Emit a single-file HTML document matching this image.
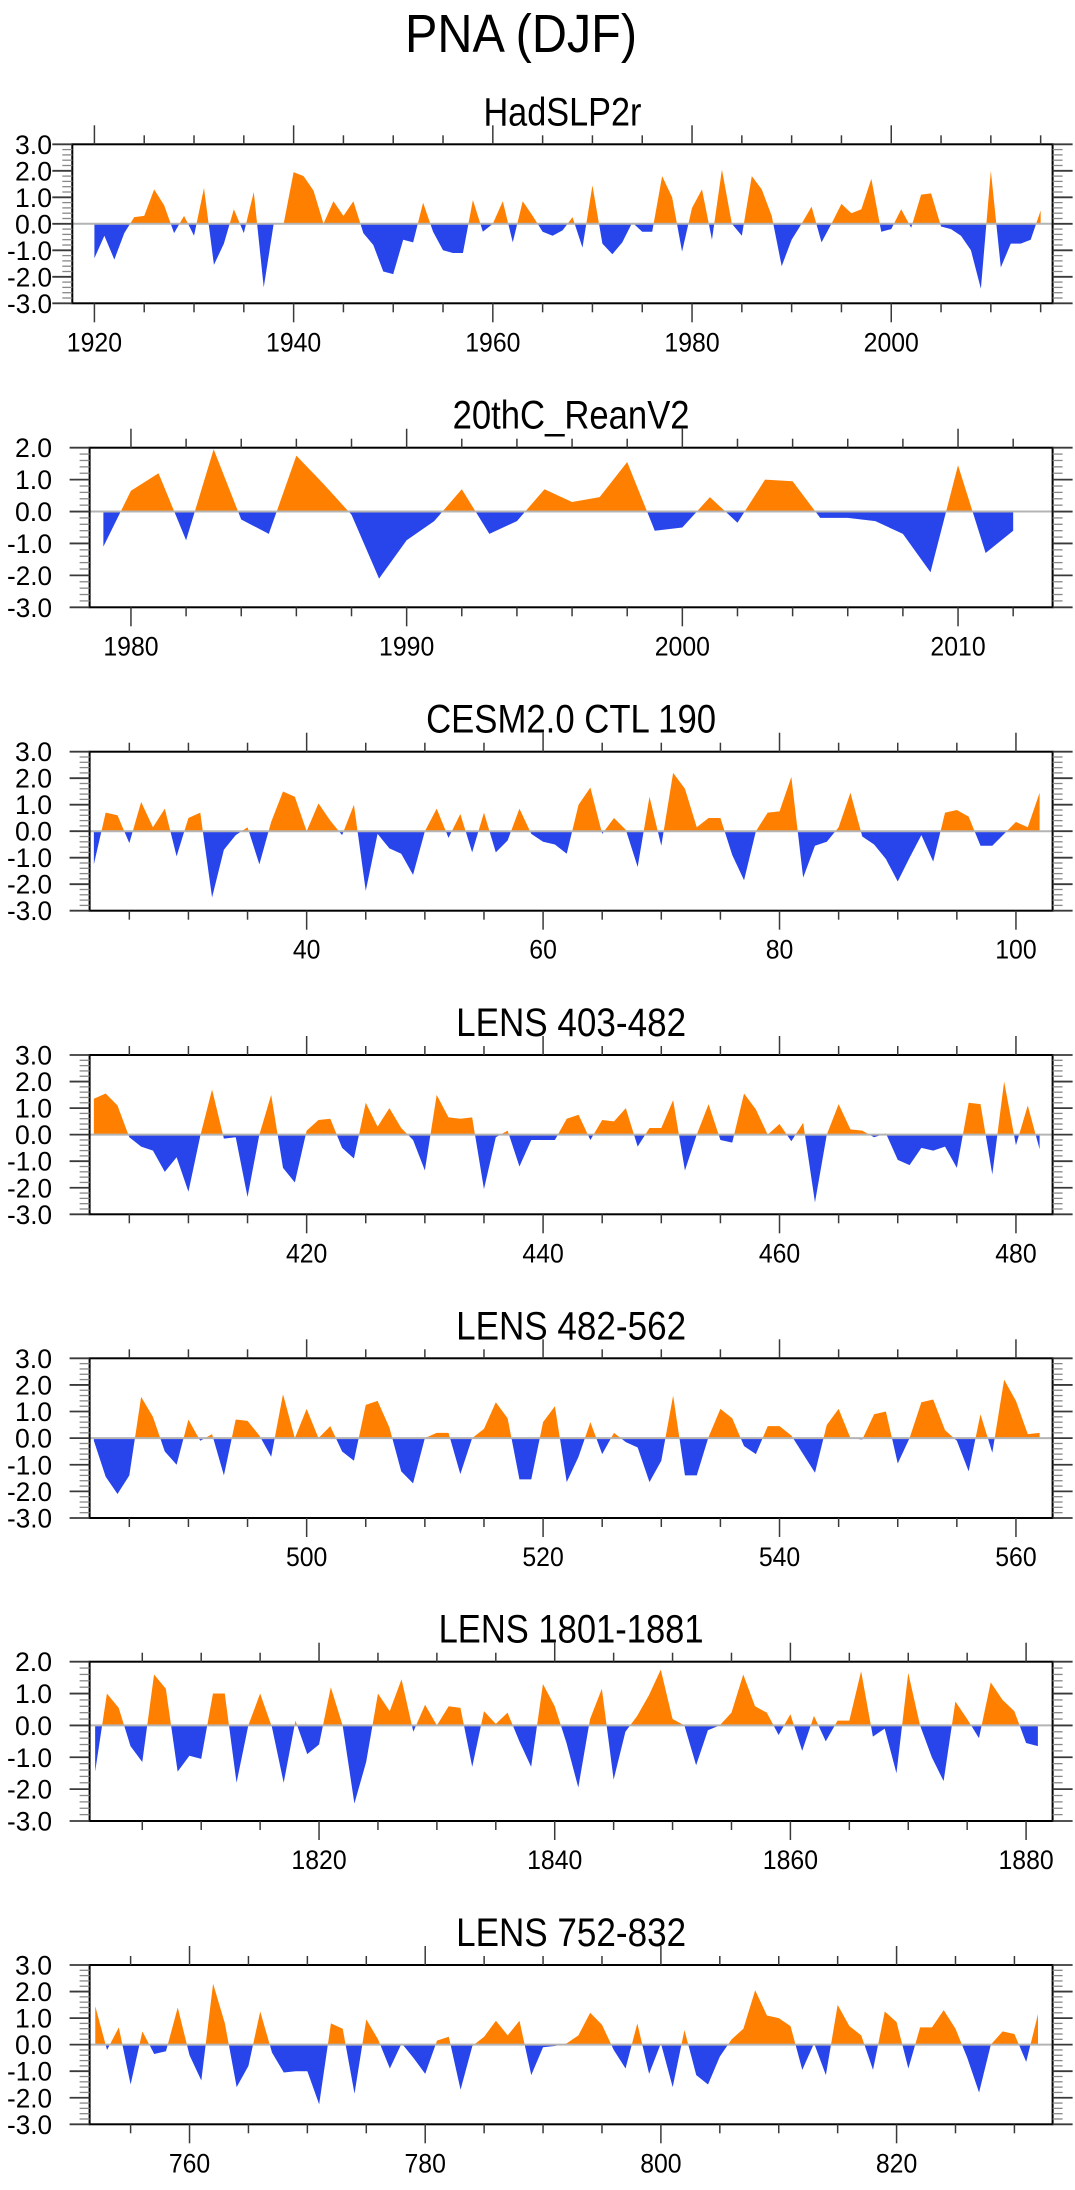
<!DOCTYPE html>
<html><head><meta charset="utf-8"><style>
html,body{margin:0;padding:0;background:#fff;}
svg{display:block;font-family:"Liberation Sans",sans-serif;}
</style></head><body>
<svg id="fig" width="1075" height="2190" viewBox="0 0 1075 2190" xmlns="http://www.w3.org/2000/svg">
<text x="521" y="52" font-size="54" text-anchor="middle" textLength="232" lengthAdjust="spacingAndGlyphs">PNA (DJF)</text>
</svg>
<script>
// ---- data ----
const hadStart = 1920;
const hadValues = [-1.3,-0.45,-1.35,-0.35,0.25,0.3,1.3,0.7,-0.35,0.3,-0.45,1.35,-1.55,-0.75,0.55,-0.35,1.2,-2.4,0.0,0.0,
1.95,1.8,1.25,0.0,0.85,0.3,0.85,-0.35,-0.8,-1.8,-1.9,-0.6,-0.7,0.8,-0.3,-1.0,-1.1,-1.1,0.9,-0.3,
0.0,0.85,-0.7,0.85,0.3,-0.3,-0.45,-0.25,0.25,-0.9,1.45,-0.75,-1.15,-0.7,0.05,-0.3,-0.3,1.8,1.0,-1.05,
0.6,1.3,-0.6,2.05,0.0,-0.45,1.8,1.3,0.3,-1.6,-0.6,0.0,0.65,-0.7,0.0,0.75,0.4,0.55,1.7,-0.3,
-0.2,0.55,-0.15,1.1,1.15,-0.1,-0.2,-0.45,-1.0,-2.45,2.0,-1.65,-0.75,-0.75,-0.6,0.5];
const reanStart = 1979;
const reanValues = [-1.1,0.65,1.2,-0.9,1.95,-0.25,-0.7,1.75,0.85,-0.1,-2.1,-0.9,-0.3,0.7,-0.7,-0.3,0.7,0.3,0.45,1.55,
-0.6,-0.5,0.45,-0.35,1.0,0.95,-0.2,-0.2,-0.3,-0.7,-1.9,1.45,-1.3,-0.6];
const cesmStart = 22;
const cesmValues = [-1.25,0.7,0.6,-0.45,1.1,0.15,0.85,-0.95,0.5,0.7,-2.5,-0.7,-0.15,0.15,-1.25,0.35,1.5,1.3,0.0,1.05,
0.4,-0.15,1.0,-2.25,-0.1,-0.65,-0.85,-1.65,0.0,0.85,-0.25,0.65,-0.8,0.7,-0.8,-0.35,0.85,-0.1,-0.4,-0.5,
-0.85,1.0,1.65,-0.1,0.5,0.05,-1.35,1.3,-0.55,2.2,1.6,0.15,0.5,0.5,-0.9,-1.85,0.0,0.7,0.75,2.05,
-1.75,-0.55,-0.4,0.15,1.45,-0.2,-0.5,-1.05,-1.9,-1.0,-0.15,-1.15,0.7,0.8,0.55,-0.55,-0.55,-0.1,0.35,0.15,1.45];
const lensAStart = 402;
const lensAValues = [1.35,1.55,1.1,-0.1,-0.45,-0.6,-1.4,-0.85,-2.15,-0.05,1.7,-0.15,-0.1,-2.35,0.0,1.5,-1.25,-1.8,0.15,0.55,
0.6,-0.5,-0.9,1.2,0.3,1.0,0.25,-0.2,-1.35,1.5,0.65,0.6,0.65,-2.05,-0.1,0.15,-1.2,-0.2,-0.2,-0.2,
0.6,0.75,-0.2,0.55,0.5,1.0,-0.45,0.25,0.25,1.3,-1.35,0.0,1.15,-0.2,-0.3,1.55,0.95,0.0,0.4,-0.25,
0.45,-2.55,0.0,1.15,0.2,0.15,-0.1,0.05,-0.95,-1.15,-0.5,-0.6,-0.45,-1.25,1.2,1.15,-1.5,2.0,-0.4,1.1,-0.55];
const lensBStart = 482;
const lensBValues = [-0.1,-1.45,-2.1,-1.4,1.55,0.8,-0.5,-1.0,0.7,-0.1,0.15,-1.4,0.7,0.65,0.1,-0.7,1.65,0.0,1.1,0.0,
0.45,-0.5,-0.85,1.25,1.4,0.4,-1.25,-1.7,0.0,0.2,0.2,-1.35,0.0,0.35,1.35,0.75,-1.55,-1.55,0.6,1.2,
-1.65,-0.7,0.6,-0.6,0.2,-0.15,-0.35,-1.65,-0.85,1.6,-1.4,-1.4,0.05,1.1,0.75,-0.3,-0.6,0.45,0.45,0.1,
-0.6,-1.3,0.5,1.1,0.0,-0.05,0.9,1.0,-0.95,0.0,1.35,1.45,0.3,-0.1,-1.25,0.9,-0.55,2.2,1.4,0.15,0.2];
const lensCStart = 1801;
const lensCValues = [-1.45,1.0,0.55,-0.65,-1.15,1.6,1.15,-1.45,-0.95,-1.05,1.0,1.0,-1.8,0.0,1.0,-0.05,-1.8,0.15,-0.9,-0.6,
1.2,0.0,-2.45,-1.15,1.0,0.45,1.45,-0.2,0.65,0.0,0.6,0.55,-1.3,0.45,0.05,0.4,-0.5,-1.3,1.3,0.6,
-0.55,-1.95,0.2,1.15,-1.7,-0.2,0.3,0.95,1.75,0.2,0.0,-1.25,-0.15,0.0,0.4,1.6,0.6,0.4,-0.3,0.35,
-0.8,0.3,-0.5,0.15,0.15,1.7,-0.35,-0.1,-1.5,1.65,0.0,-1.0,-1.75,0.75,0.2,-0.4,1.35,0.8,0.45,-0.55,-0.65];
const lensDStart = 752;
const lensDValues = [1.45,-0.2,0.65,-1.5,0.5,-0.35,-0.25,1.4,-0.4,-1.35,2.3,0.8,-1.6,-0.8,1.25,-0.3,-1.05,-1.0,-1.0,-2.25,
0.8,0.6,-1.85,0.95,0.2,-0.9,0.05,-0.5,-1.1,0.15,0.3,-1.7,-0.05,0.3,0.9,0.35,0.9,-1.15,-0.1,-0.05,
0.05,0.35,1.2,0.75,-0.2,-0.9,0.8,-1.1,0.05,-1.6,0.55,-1.15,-1.5,-0.45,0.2,0.6,2.05,1.1,1.0,0.7,
-0.95,0.05,-1.15,1.5,0.7,0.35,-0.95,1.25,0.85,-0.9,0.65,0.65,1.3,0.6,-0.5,-1.8,0.0,0.5,0.4,-0.65,1.15];
const panelTitles = ["HadSLP2r","20thC_ReanV2","CESM2.0 CTL 190","LENS 403-482","LENS 482-562","LENS 1801-1881","LENS 752-832"];
const xLabelsA = [1920,1940,1960,1980,2000];
const xLabelsB = [1980,1990,2000,2010];
const xLabelsC = [40,60,80,100];
const xLabelsD = [420,440,460,480];
const xLabelsE = [500,520,540,560];
const xLabelsF = [1820,1840,1860,1880];
const xLabelsG = [760,780,800,820];

// ---- layout ----
const NS = "http://www.w3.org/2000/svg";
const svg = document.getElementById('fig');
const ORANGE = "#ff8000", BLUE = "#2845ec", TICK = "#3a3a3a";
function mk(tag, attrs, parent){ const e=document.createElementNS(NS,tag); for(const k in attrs) e.setAttribute(k,attrs[k]); (parent||svg).appendChild(e); return e; }

const panels = [
 {start:hadStart, vals:hadValues, labels:xLabelsA, minor:5, left:72.3, top:144.3, bottom:303.3, xmin:1917.78, xmax:2016.2, ymax:3, tw:158},
 {start:reanStart, vals:reanValues, labels:xLabelsB, minor:2, left:89.6, top:447.7, bottom:607.3, xmin:1978.5, xmax:2013.43, ymax:2, tw:237},
 {start:cesmStart, vals:cesmValues, labels:xLabelsC, minor:5, left:89.6, top:751.7, bottom:910.7, xmin:21.64, xmax:103.1, ymax:3, tw:290},
 {start:lensAStart, vals:lensAValues, labels:xLabelsD, minor:5, left:89.6, top:1055, bottom:1214.3, xmin:401.64, xmax:483.1, ymax:3, tw:230},
 {start:lensBStart, vals:lensBValues, labels:xLabelsE, minor:5, left:89.6, top:1358.3, bottom:1518, xmin:481.64, xmax:563.1, ymax:3, tw:230},
 {start:lensCStart, vals:lensCValues, labels:xLabelsF, minor:5, left:89.6, top:1661.7, bottom:1821, xmin:1800.53, xmax:1882.25, ymax:2, tw:265},
 {start:lensDStart, vals:lensDValues, labels:xLabelsG, minor:5, left:89.6, top:1965, bottom:2124.3, xmin:751.52, xmax:833.24, ymax:3, tw:230}
];
const RIGHT = 1052.6, YMIN = -3;

panels.forEach((p,i)=>{
  const g = mk('g',{});
  
  
  const xs = v => p.left + (v - p.xmin) / (p.xmax - p.xmin) * (RIGHT - p.left);
  const ys = v => p.bottom - (v - YMIN) / (p.ymax - YMIN) * (p.bottom - p.top);
  const cx = (p.left + RIGHT)/2;
  const t = mk('text',{x:cx, y:p.top-19, 'font-size':40, 'text-anchor':'middle', textLength:p.tw, lengthAdjust:'spacingAndGlyphs'}, g);
  t.textContent = panelTitles[i];
  
  
  const cid = 'c'+i;
  const defs = mk('defs',{},g);
  const cpA = mk('clipPath',{id:cid+'a'},defs);
  mk('rect',{x:p.left,y:p.top,width:RIGHT-p.left,height:ys(0)-p.top},cpA);
  const cpB = mk('clipPath',{id:cid+'b'},defs);
  mk('rect',{x:p.left,y:ys(0),width:RIGHT-p.left,height:p.bottom-ys(0)},cpB);
  const n = p.vals.length;
  let pts = xs(p.start).toFixed(2)+','+ys(0).toFixed(2)+' ';
  p.vals.forEach((v,k)=>{ pts += xs(p.start+k).toFixed(2)+','+ys(v).toFixed(2)+' '; });
  pts += xs(p.start+n-1).toFixed(2)+','+ys(0).toFixed(2);
  const pa = mk('polygon',{points:pts, fill:ORANGE, 'clip-path':'url(#'+cid+'a)'},g);
  
  
  const pb = mk('polygon',{points:pts, fill:BLUE, 'clip-path':'url(#'+cid+'b)'},g);
  
  
  const zl = mk('line',{x1:p.left,x2:RIGHT,y1:ys(0),y2:ys(0),stroke:'#b4b4b4','stroke-width':2},g);
  
  
  const box = mk('rect',{x:p.left,y:p.top,width:RIGHT-p.left,height:p.bottom-p.top,fill:'none',stroke:'#000','stroke-width':2},g);
  
  
  const first = Math.ceil(p.xmin/p.minor)*p.minor;
  for(let v=first; v<=p.xmax; v+=p.minor){
    const major = p.labels.includes(v);
    const L = major?19:9, x=xs(v);
    mk('line',{x1:x,x2:x,y1:p.bottom,y2:p.bottom+L,stroke:TICK,'stroke-width':1.5},g);
    mk('line',{x1:x,x2:x,y1:p.top,y2:p.top-L,stroke:TICK,'stroke-width':1.5},g);
  }
  p.labels.forEach(v=>{
    const s = String(v);
    const tl = mk('text',{x:xs(v),y:p.bottom+48,'font-size':27,'text-anchor':'middle',textLength:(s.length*13.8).toFixed(1),lengthAdjust:'spacingAndGlyphs'},g);
    tl.textContent = s;
    
    
  });
  for(let k=0;k<=(p.ymax-YMIN)*5;k++){
    const v = YMIN + k*0.2, y = ys(v), major = (k%5===0);
    const L = major?20:10;
    mk('line',{x1:p.left-L,x2:p.left,y1:y,y2:y,stroke:major?TICK:'#888','stroke-width':major?1.8:1.3},g);
    mk('line',{x1:RIGHT,x2:RIGHT+L,y1:y,y2:y,stroke:major?TICK:'#888','stroke-width':major?1.8:1.3},g);
    if(major){
      const s = v.toFixed(1);
      const yl = mk('text',{x:52,y:y+9.5,'font-size':27,'text-anchor':'end',textLength:(s.length===4?45:37),lengthAdjust:'spacingAndGlyphs'},g);
      yl.textContent = s;
      
      
    }
  }
});
</script>
</body></html>
